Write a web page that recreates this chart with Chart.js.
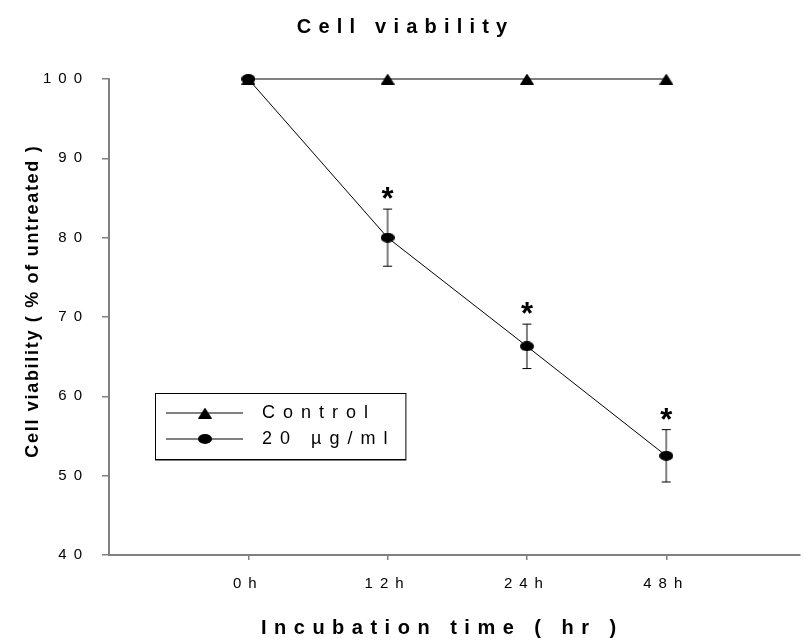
<!DOCTYPE html>
<html>
<head>
<meta charset="utf-8">
<script src="https://cdn.jsdelivr.net/npm/chart.js@4.4.1/dist/chart.umd.min.js"></script>
<style>
html, body { margin: 0; padding: 0; background: #fff; }
#wrap { width: 806px; height: 642px; }
</style>
</head>
<body>
<div id="wrap"><canvas id="viabilityChart"></canvas></div>
<script>
// data
const timeLabels = ['0h', '12h', '24h', '48h'];
const controlValues = [100, 100, 100, 100];
const treatedValues = [100, 80, 66.3, 52.5];
const treatedErrors = [0, 3.6, 2.8, 3.3];
const significant = [false, true, true, true];
const seriesNames = ['Control', '20 µg/ml'];
const yRange = [40, 100];

const FONT = "'Liberation Sans', Arial, sans-serif";
const AXIS_GREY = '#808080';

// marker images (the circles in the original are a bit flattened)
function makeEllipse(w, h) {
    const c = document.createElement('canvas');
    c.width = w; c.height = h;
    const g = c.getContext('2d');
    g.fillStyle = '#000';
    g.beginPath();
    g.ellipse(w / 2, h / 2, w / 2, h / 2, 0, 0, Math.PI * 2);
    g.fill();
    return c;
}
function makeTriangle(w, h) {
    const c = document.createElement('canvas');
    c.width = w; c.height = h;
    const g = c.getContext('2d');
    g.fillStyle = '#000';
    g.beginPath();
    g.moveTo(w / 2, 0);
    g.lineTo(w, h);
    g.lineTo(0, h);
    g.closePath();
    g.fill();
    return c;
}
const circleMark = makeEllipse(14, 10);
const triangleMark = makeTriangle(14, 11);

function spacedText(ctx, text, x, y, spacing, align) {
    ctx.letterSpacing = spacing + 'px';
    ctx.textAlign = align;
    // trailing spacing shifts centred text, compensate
    const dx = align === 'center' ? spacing / 2 : 0;
    ctx.fillText(text, x + dx, y);
}

const extrasPlugin = {
    id: 'extras',
    beforeDraw(chart) {
        // spaced-out tick labels like the original
        chart.ctx.letterSpacing = '7px';
    },
    beforeDatasetsDraw(chart) {
        const ctx = chart.ctx;
        const xs = chart.scales.x, ys = chart.scales.y;
        ctx.save();
        ctx.letterSpacing = '0px';
        treatedValues.forEach((v, i) => {
            if (!treatedErrors[i]) return;
            const px = xs.getPixelForValue(i + 1);
            const top = ys.getPixelForValue(v + treatedErrors[i]);
            const bot = ys.getPixelForValue(v - treatedErrors[i]);
            ctx.strokeStyle = AXIS_GREY;
            ctx.lineWidth = 2;
            ctx.beginPath();
            ctx.moveTo(px, top); ctx.lineTo(px, bot);
            ctx.stroke();
            ctx.strokeStyle = '#000';
            ctx.lineWidth = 1;
            ctx.beginPath();
            ctx.moveTo(px - 4.5, top); ctx.lineTo(px + 4.5, top);
            ctx.moveTo(px - 4.5, bot); ctx.lineTo(px + 4.5, bot);
            ctx.stroke();
        });
        ctx.restore();
    },
    afterDatasetsDraw(chart) {
        const ctx = chart.ctx;
        const xs = chart.scales.x, ys = chart.scales.y;
        ctx.save();
        ctx.letterSpacing = '0px';
        ctx.fillStyle = '#000';
        ctx.font = 'bold 31px ' + FONT;
        ctx.textAlign = 'center';
        ctx.textBaseline = 'alphabetic';
        const m = ctx.measureText('*');
        treatedValues.forEach((v, i) => {
            if (!significant[i]) return;
            const px = xs.getPixelForValue(i + 1);
            const cy = ys.getPixelForValue(v + treatedErrors[i]) - 16;
            ctx.fillText('*', px, cy + (m.actualBoundingBoxAscent - m.actualBoundingBoxDescent) / 2);
        });
        ctx.restore();
    },
    afterDraw(chart) {
        const ctx = chart.ctx;
        ctx.save();
        ctx.fillStyle = '#000';
        ctx.textBaseline = 'middle';

        // title
        ctx.font = 'bold 20px ' + FONT;
        spacedText(ctx, 'Cell viability', 402, 27, 7.2, 'center');

        // x axis title
        spacedText(ctx, 'Incubation time ( hr )', 261, 628, 7.5, 'left');

        // y axis title
        ctx.save();
        ctx.translate(38, 302);
        ctx.rotate(-Math.PI / 2);
        ctx.font = 'bold 18px ' + FONT;
        ctx.textBaseline = 'alphabetic';
        spacedText(ctx, 'Cell viability ( % of untreated )', 0, 0, 1.7, 'center');
        ctx.restore();

        // legend
        ctx.font = '18px ' + FONT;
        ctx.letterSpacing = '8px';
        const textX = 262;
        const rows = [413, 439];
        const marks = [triangleMark, circleMark];
        const widest = Math.max(...seriesNames.map(n => ctx.measureText(n).width));
        const boxL = 155, boxT = 393, boxB = 459, boxR = textX + widest + 10;
        ctx.strokeStyle = '#000';
        ctx.lineWidth = 1;
        ctx.strokeRect(boxL + 0.5, boxT + 0.5, boxR - boxL, boxB - boxT);
        ctx.strokeStyle = AXIS_GREY;
        ctx.beginPath();
        ctx.moveTo(boxL, boxB + 1.5); ctx.lineTo(boxR + 1, boxB + 1.5);
        ctx.stroke();
        seriesNames.forEach((name, i) => {
            const y = rows[i];
            ctx.strokeStyle = AXIS_GREY;
            ctx.lineWidth = 2;
            ctx.beginPath();
            ctx.moveTo(166, y); ctx.lineTo(243, y);
            ctx.stroke();
            const mk = marks[i];
            ctx.drawImage(mk, 205 - mk.width / 2, y - mk.height / 2);
            ctx.textAlign = 'left';
            ctx.fillText(name, textX, y);
        });
        ctx.restore();
    }
};

const ctx = document.getElementById('viabilityChart').getContext('2d');
new Chart(ctx, {
    type: 'line',
    data: {
        datasets: [
            {
                label: seriesNames[1],
                data: treatedValues.map((v, i) => ({ x: i + 1, y: v })),
                borderColor: '#000',
                borderWidth: 1,
                pointStyle: circleMark,
                pointBackgroundColor: '#000',
                clip: false,
                order: 0
            },
            {
                label: seriesNames[0],
                data: controlValues.map((v, i) => ({ x: i + 1, y: v })),
                borderColor: AXIS_GREY,
                borderWidth: 2,
                pointStyle: triangleMark,
                pointBackgroundColor: '#000',
                clip: false,
                order: 1
            }
        ]
    },
    options: {
        responsive: true,
        maintainAspectRatio: false,
        animation: false,
        devicePixelRatio: 1,
        layout: { padding: { top: 79, right: 0, left: 0, bottom: 0 } },
        scales: {
            x: {
                type: 'linear',
                min: 0,
                max: 4.96,
                afterBuildTicks: s => { s.ticks = timeLabels.map((t, i) => ({ value: i + 1 })); },
                afterFit: s => { s.height = 87; },
                ticks: {
                    color: '#000',
                    padding: 15,
                    font: { family: FONT, size: 15 },
                    callback: v => timeLabels[v - 1]
                },
                grid: { drawOnChartArea: false, color: AXIS_GREY, lineWidth: 1.5, tickLength: 5 },
                border: { color: AXIS_GREY, width: 2 }
            },
            y: {
                min: yRange[0],
                max: yRange[1],
                afterFit: s => { s.width = 109; },
                ticks: {
                    stepSize: 10,
                    color: '#000',
                    padding: 13,
                    font: { family: FONT, size: 15 }
                },
                grid: { drawOnChartArea: false, color: AXIS_GREY, lineWidth: 1.5, tickLength: 7 },
                border: { color: AXIS_GREY, width: 2 }
            }
        },
        plugins: {
            legend: { display: false },
            title: { display: false },
            tooltip: { enabled: false }
        }
    },
    plugins: [extrasPlugin]
});
</script>
</body>
</html>
